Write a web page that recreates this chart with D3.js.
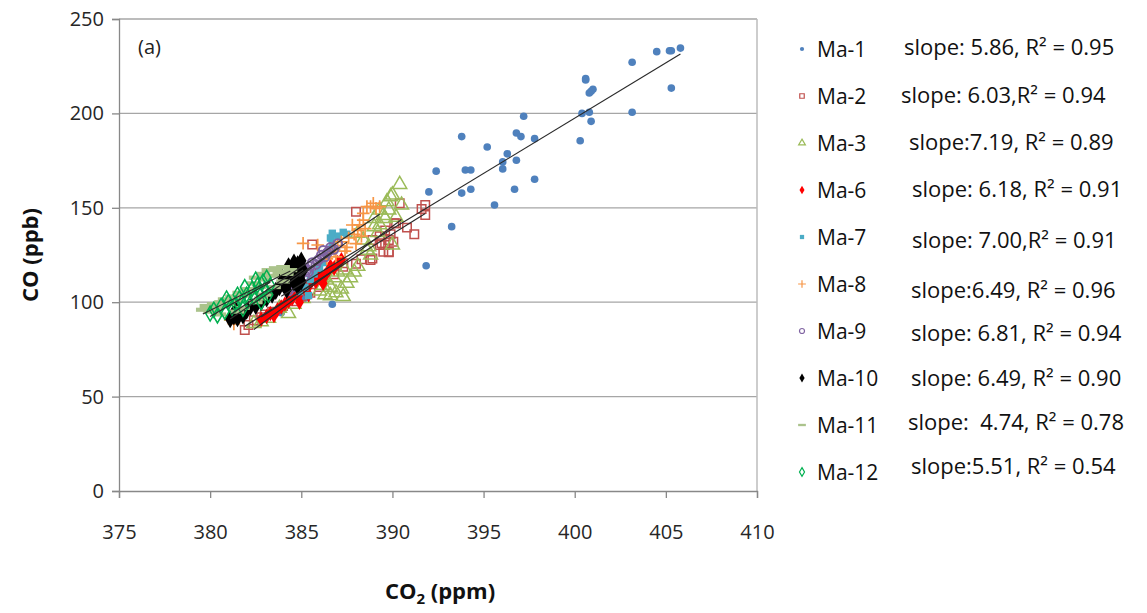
<!DOCTYPE html>
<html>
<head>
<meta charset="utf-8">
<script src="https://cdn.jsdelivr.net/npm/d3@7"></script>
<style>
  body { margin: 0; background: #fff; }
  svg { font-family: "Open Sans", Lato, sans-serif; }
</style>
</head>
<body>
<svg width="1147" height="613"></svg>
<script>
// 1. Data (CO2 ppm, CO ppb)
const ma1 = [[405.8,234.6],[405.2,233.2],[405.3,233.2],[404.5,232.7],[403.15,227.1],[400.6,218.4],[400.6,217.7],
  [401.0,212.8],[400.9,211.7],[400.8,210.8],[405.3,213.4],[400.4,200.0],[400.8,200.6],[403.15,200.6],[400.9,195.8],
  [400.3,185.5],[397.2,198.5],[396.8,189.6],[397.05,187.7],[397.8,186.6],[395.2,182.2],[396.3,178.6],[396.05,174.3],
  [396.8,175.2],[396.05,170.6],[393.8,187.7],[392.4,169.4],[394.0,170.0],[394.3,170.0],[397.8,165.1],[392.0,158.4],
  [393.8,157.8],[394.3,159.8],[396.7,159.8],[395.6,151.5],[393.25,140.0],[391.85,119.3],[386.7,98.9],[383.9,94.4],[385.2,102.2]];
const ma2 = [[381.9,85.3],[382.1,87.9],[382.4,90.5],[382.8,92],[383.4,95.0],[383.0,93.5],[384.0,98],[384.6,100.5],
  [385.6,130.6],[386.2,113.5],[386.8,114.8],[387.3,120.6],[388.0,120.4],[388.3,122.7],[388.8,122.3],[389.8,126.4],
  [387.3,118.8],[388.0,147.9],[388.9,123.2],[389.3,130.3],[389.6,130.3],[389.8,132.9],[390.05,132.0],[389.8,126.7],
  [390.8,139.5],[391.2,136.0],[390.1,141.8],[389.4,131.2],[389.5,126.7],[390.2,141.8],[391.8,151.5],[391.6,149.4],
  [391.8,146.2],[390.4,152.4],[389.9,136],[389.6,138],[389.3,135],[388.9,133],[385.5,105],[386,108],[385,103]];
const ma3 = [[382.4,88.8],[382.8,89.7],[383.2,91.5],[383.8,96.8],[384.3,94],[385.1,102.0],[384.6,99],
  [386.0,106],[386.3,104],[386.6,108],[386.9,105],[387.2,107],[387.5,110],[386.4,111.8],[386.8,113],[387.0,116],
  [387.4,117.1],[387.7,113],[386.2,109],[387.9,116],[388.1,119],[386.6,103.5],[387.3,103],
  [388.1,136.5],[388.4,133],[388.6,127.6],[388.7,129.4],[389.0,140.0],[389.2,137],[389.3,148.8],[389.7,153.2],
  [390.0,156.8],[390.4,162.4],[389.9,155.9],[389.8,148.8],[389.5,146],[390.5,151.5],[389.6,144.4],[389.0,144.4],
  [390.2,145],[390.0,130.3],[388.8,125],[389.3,141]];
const ma6 = [[382.8,91],[383.1,92.5],[383.3,94],[383.5,93],[383.7,96],[383.9,97.5],[384.1,99],[384.3,100.5],
  [384.5,102],[384.6,104],[384.8,103],[385.0,106],[385.1,108],[385.3,107],[385.5,110],[385.6,112],[385.8,111],
  [386.0,113],[386.1,115],[386.3,114],[386.5,117],[386.6,119],[386.8,118],[387.0,121],[387.2,122.5],[385.9,116],
  [384.9,100],[385.4,104],[386.2,110]];
const ma7 = [[384.9,105.6],[385.2,108],[385.5,112],[385.7,115],[386.0,118],[386.2,121],[386.4,125],[386.6,128],
  [386.7,131],[386.6,134],[386.7,136.5],[387.0,135],[387.3,137],[387.5,136],[385.4,103.5]];
const ma8 = [[381.1,91.5],[381.1,90.6],[381.5,93],[381.3,88.5],[385.1,131.2],[385.9,130.3],[386.4,123],[386.6,126],
  [386.8,128],[387.0,130],[387.2,132],[387.4,127],[387.6,134],[387.8,140.9],[387.9,136],[388.1,138],[388.3,135],
  [388.4,147.1],[388.4,143.5],[388.6,150.6],[388.8,150.6],[388.95,152.4],[389.1,149.7],[389.3,150.6],[388.2,141],
  [388.0,131],[386.9,124],[387.5,129],[388.5,139]];
const ma9 = [[384.3,106],[384.5,108],[384.7,110],[384.9,112],[385.0,115],[385.2,114],[385.3,117],[385.5,119],
  [385.6,121],[385.8,120],[386.0,123],[386.1,125],[386.3,124],[386.5,127],[386.6,129],[386.8,128],[387.0,131],
  [385.4,116],[385.9,122],[386.4,126],[384.8,109.5],[386.2,127.5],[385.1,118.6]];
const ma10 = [[381.1,91],[381.3,92.5],[381.5,91.5],[381.6,94],[381.8,93],[382.0,95.5],[381.4,96],[382.2,97.5],
  [382.5,98],[382.8,100],[383.1,102],[383.4,104],[383.6,106],[383.8,108],[384.0,110],[384.1,113],[384.2,109],
  [384.3,115],[384.4,112],[384.5,118],[384.6,110.5],[384.7,116],[384.8,120],[384.9,113],[385.0,122],[385.1,117],
  [384.3,119],[384.6,121],[385.0,111],[384.8,108.5],[383.9,114],[384.2,106.5]];
const ma11 = [[379.6,96],[379.8,98],[380.0,95],[380.2,99],[380.4,97],[380.6,100],[380.8,101.5],[381.0,99],
  [381.2,103],[381.4,101],[381.6,105],[381.8,103.5],[382.0,107],[382.2,105],[382.4,110],[382.5,113],[382.7,108],
  [382.9,115],[383.0,112],[383.2,117],[383.4,114],[383.6,118],[383.8,116],[384.0,118.6],[384.2,115],[384.4,117],
  [383.0,104],[382.5,100],[381.8,97],[382.8,102],[383.5,108],[380.5,93.5],[381.5,95],[384.0,111]];
const ma12 = [[380.0,94],[380.2,96],[380.4,93],[380.6,98],[380.8,95],[381.0,100],[381.2,97],[381.4,99],
  [381.6,102],[381.8,96.5],[382.0,104],[382.1,101],[382.3,107],[382.4,103],[382.6,109],[382.7,105],[382.9,111],
  [383.0,107],[383.1,113],[383.3,109],[382.5,112],[381.5,104],[382.8,100],[381.9,108],[383.2,104],[380.9,102]];

const seriesNames = ['Ma-1','Ma-2','Ma-3','Ma-6','Ma-7','Ma-8','Ma-9','Ma-10','Ma-11','Ma-12'];
const seriesData = [ma1, ma2, ma3, ma6, ma7, ma8, ma9, ma10, ma11, ma12];
const slopes = [5.86, 6.03, 7.19, 6.18, 7.00, 6.49, 6.81, 6.49, 4.74, 5.51];
const slopeLabels = ['slope: 5.86, R\u00b2 = 0.95', 'slope: 6.03,R\u00b2 = 0.94', 'slope:7.19, R\u00b2 = 0.89',
  'slope: 6.18, R\u00b2 = 0.91', 'slope: 7.00,R\u00b2 = 0.91', 'slope:6.49, R\u00b2 = 0.96', 'slope: 6.81, R\u00b2 = 0.94',
  'slope: 6.49, R\u00b2 = 0.90', 'slope:  4.74, R\u00b2 = 0.78', 'slope:5.51, R\u00b2 = 0.54'];
const xTicks = [375, 380, 385, 390, 395, 400, 405, 410];
const yTicks = [0, 50, 100, 150, 200, 250];

// 2. Styles
const colors = ['#4F81BD','#C0504D','#9BBB59','#FF0000','#4BACC6','#F79646','#8064A2','#000000','#ABC38C','#00B050'];
const plusSym = { draw(ctx, size) { const r = Math.sqrt(size) / 2; ctx.moveTo(-r, 0); ctx.lineTo(r, 0); ctx.moveTo(0, -r); ctx.lineTo(0, r); } };
const dashSym = { draw(ctx, size) { const r = Math.sqrt(size) / 2; ctx.rect(-r, -r * 0.3, 2 * r, r * 0.6); } };
const shapes = [d3.symbolCircle, d3.symbolSquare, d3.symbolTriangle, d3.symbolDiamond, d3.symbolSquare,
  plusSym, d3.symbolCircle, d3.symbolDiamond, dashSym, d3.symbolDiamond];
const filled = [true, false, false, true, true, false, false, true, true, false];
const sizes = [46, 72, 85, 70, 55, 160, 60, 95, 190, 65];
const legendSizes = [14, 20, 20, 22, 18, 60, 20, 24, 60, 22];

const svg = d3.select("svg");
const x = d3.scaleLinear().domain([375, 410]).range([119, 757]);
const y = d3.scaleLinear().domain([0, 250]).range([491, 19]);

// 3. Grid and axes
svg.append("g").selectAll("line").data(yTicks.slice(1)).join("line")
  .attr("x1", x(375)).attr("x2", x(410))
  .attr("y1", d => y(d)).attr("y2", d => y(d))
  .attr("stroke", "#a6a6a6").attr("stroke-width", 1.3);
svg.append("line").attr("x1", x(410)).attr("x2", x(410)).attr("y1", y(250)).attr("y2", y(0))
  .attr("stroke", "#bdbdbd").attr("stroke-width", 1.5);

const xAxis = svg.append("g").attr("transform", `translate(0,${y(0)})`)
  .call(d3.axisBottom(x).tickValues(xTicks).tickSize(7).tickPadding(27));
const yAxis = svg.append("g").attr("transform", `translate(${x(375)},0)`)
  .call(d3.axisLeft(y).tickValues(yTicks).tickSize(7).tickPadding(8));
[xAxis, yAxis].forEach(a => {
  a.select(".domain").attr("stroke", "#888").attr("stroke-width", 1.3);
  a.selectAll(".tick line").attr("stroke", "#888").attr("stroke-width", 1.3);
  a.selectAll(".tick text").attr("fill", "#262626").style("font-size", "20px").style("font-family", "'Open Sans', sans-serif");
});

// 4. Points
seriesData.forEach((pts, i) => {
  const sym = d3.symbol().type(shapes[i]).size(sizes[i]);
  svg.append("g").selectAll("path").data(pts).join("path")
    .attr("transform", d => `translate(${x(d[0])},${y(d[1])})`)
    .attr("d", sym)
    .attr("fill", filled[i] ? colors[i] : "none")
    .attr("stroke", filled[i] ? "none" : colors[i])
    .attr("stroke-width", i === 6 ? 2 : (i === 5 ? 1.7 : 1.5));
});

// 5. Trend lines through each series centroid with the reported slope
seriesData.forEach((pts, i) => {
  const mx = d3.mean(pts, d => d[0]), my = d3.mean(pts, d => d[1]);
  const [x0, x1] = d3.extent(pts, d => d[0]);
  svg.append("line")
    .attr("x1", x(x0)).attr("y1", y(my + slopes[i] * (x0 - mx)))
    .attr("x2", x(x1)).attr("y2", y(my + slopes[i] * (x1 - mx)))
    .attr("stroke", "#2b2b2b").attr("stroke-width", 1.2);
});

// 6. Labels
svg.append("text").attr("x", 138).attr("y", 54).style("font-size", "20px").attr("fill", "#222").text("(a)");
svg.append("text").attr("transform", "translate(38,255) rotate(-90)").attr("text-anchor", "middle")
  .style("font-size", "22px").style("font-weight", "bold").attr("fill", "#111").text("CO (ppb)");
const xl = svg.append("text").attr("x", 440).attr("y", 599).attr("text-anchor", "middle")
  .style("font-size", "22px").style("font-weight", "bold").attr("fill", "#111");
xl.append("tspan").text("CO");
xl.append("tspan").attr("dy", 5).style("font-size", "15px").text("2");
xl.append("tspan").attr("dy", -5).text(" (ppm)");

// 7. Legend
const slopeX = [904, 901, 909, 912, 912, 911, 911, 911, 908, 911];
const slopeY = [47, 95, 142, 189, 240, 290, 333, 378, 422, 466];
seriesNames.forEach((name, i) => {
  const ly = 49 + i * 47;
  const sym = d3.symbol().type(shapes[i]).size(legendSizes[i]);
  svg.append("path").attr("transform", `translate(802,${ly})`).attr("d", sym)
    .attr("fill", filled[i] ? colors[i] : "none")
    .attr("stroke", filled[i] ? "none" : colors[i]).attr("stroke-width", 1.2);
  svg.append("text").attr("x", 817).attr("y", ly + 8).style("font-size", "21px").attr("fill", "#111").text(name);
  svg.append("text").attr("x", slopeX[i]).attr("y", slopeY[i] + 8).style("font-size", "22px")
    .style("white-space", "pre").attr("fill", "#111")
    .text(slopeLabels[i]);
});
</script>
</body>
</html>
